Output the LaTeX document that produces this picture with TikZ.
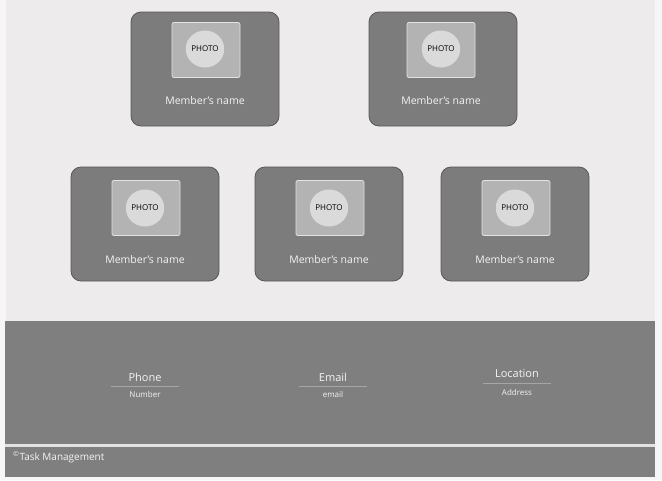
\documentclass[tikz,border=0pt]{standalone}
\usepackage{fontspec}
\setmainfont{Open Sans}
\usetikzlibrary{positioning, shapes.geometric}

\definecolor{pagebg}{HTML}{F6F6F6}
\definecolor{panelbg}{HTML}{EEEBEC}
\definecolor{cardgray}{HTML}{7C7C7C}
\definecolor{cardedge}{HTML}{575757}
\definecolor{photobox}{HTML}{B3B3B3}
\definecolor{photoedge}{HTML}{E2E2E2}
\definecolor{photooval}{HTML}{DADADA}
\definecolor{bandgray}{HTML}{7F7F7F}
\definecolor{rulegray}{HTML}{A6A6A6}
\definecolor{softwhite}{HTML}{F4F4F4}

\begin{document}
\begin{tikzpicture}[x=1pt, y=-1pt,
 card/.style={rectangle, draw=cardedge, thick, rounded corners=10pt,
  fill=cardgray, minimum width=148pt, minimum height=114pt},
 photo/.style={rectangle, draw=photoedge, thick, rounded corners=2pt,
  fill=photobox, minimum width=68pt, minimum height=55pt},
 oval/.style={ellipse, fill=photooval, minimum width=31pt, minimum height=37pt,
  inner sep=0pt, font=\fontsize{8}{9}\selectfont, text=black},
 member/.style={text=softwhite, font=\fontsize{10.5}{11}\selectfont, inner sep=0pt},
 band/.style={rectangle, fill=bandgray, inner sep=0pt, anchor=north west},
 contact/.style={text=softwhite, font=\fontsize{11}{12}\selectfont, inner sep=0pt,
  minimum width=67pt, minimum height=18pt},
 detail/.style={text=softwhite, font=\fontsize{8}{9}\selectfont, inner sep=0pt}]

 \useasboundingbox (0,0) rectangle (662,480);
 \fill[pagebg] (0,0) rectangle (662,480);
 \fill[panelbg] (6,0) rectangle (655,321);

 % member cards, top row
 \node[card] (M1) at (205,69) {};
 \node[photo] (P1) at (206,50) {};
 \node[oval] (O1) at (205,49) {PHOTO};
 \node[member] (N1) at (205,101) {Member's name};

 \node[card] (M2) at (443,69) {};
 \node[photo] (P2) at (441,50) {};
 \node[oval] (O2) at (441,49) {PHOTO};
 \node[member] (N2) at (441,101) {Member's name};

 % member cards, bottom row
 \node[card] (M3) at (145,224) {};
 \node[photo] (P3) at (146,208) {};
 \node[oval] (O3) at (145,208) {PHOTO};
 \node[member] (N3) at (145,260) {Member's name};

 \node[card] (M4) at (329,224) {};
 \node[photo] (P4) at (330,208) {};
 \node[oval] (O4) at (329,208) {PHOTO};
 \node[member] (N4) at (329,260) {Member's name};

 \node[card] (M5) at (515,224) {};
 \node[photo] (P5) at (516,208) {};
 \node[oval] (O5) at (515,208) {PHOTO};
 \node[member] (N5) at (515,260) {Member's name};

 % contact band
 \node[band, minimum width=650pt, minimum height=123pt] (contactband) at (5,321) {};
 \fill[photoedge] (5,444) rectangle (655,447);
 \node[band, minimum width=650pt, minimum height=30pt] (footer) at (5,447) {};

 \node[contact] (phone) at (145,377) {Phone};
 \draw[rulegray, thick] (phone.south west) -- (phone.south east);
 \node[detail] (number) at (145,394) {Number};

 \node[contact] (email) at (333,377) {Email};
 \draw[rulegray, thick] (email.south west) -- (email.south east);
 \node[detail] (emailtext) at (333,394) {email};

 \node[contact] (location) at (517,374) {Location};
 \draw[rulegray, thick] (location.south west) -- (location.south east);
 \node[detail] (address) at (517,392) {Address};

 \node[text=softwhite, font=\fontsize{10}{11}\selectfont, inner sep=0pt, anchor=west]
  (copyright) at (13,457) {\textsuperscript{\textcopyright}Task Management};
\end{tikzpicture}
\end{document}
